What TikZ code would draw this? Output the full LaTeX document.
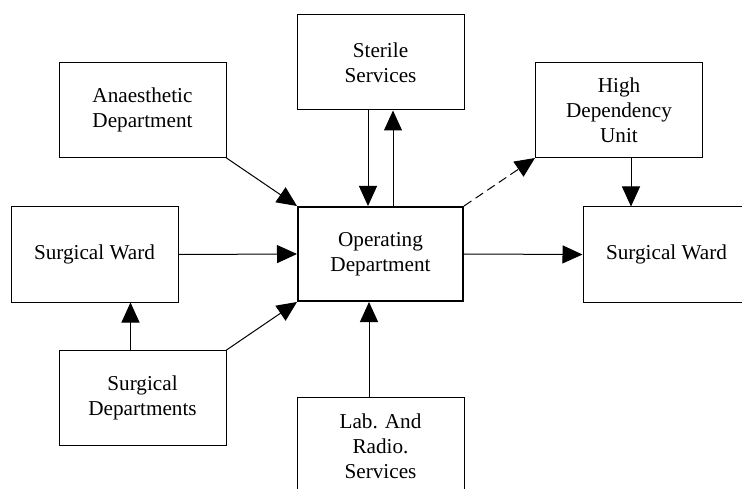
\documentclass[tikz,border=0pt]{standalone}
\usepackage{fontspec}
\setmainfont{Liberation Serif}
\usetikzlibrary{arrows.meta}

\begin{document}
\begin{tikzpicture}[x=1pt,y=-1pt,line width=1pt,
    dept/.style={draw,align=center,minimum width=167pt,minimum height=95pt,
      inner sep=0pt,font=\fontsize{21.2}{25}\selectfont},
    arr/.style={-{Triangle[length=20pt,width=18pt]}}]
    \useasboundingbox (0,0) rectangle (742,489);
    \node[dept] (sterile) at (380.5,62.5) {Sterile\\Services};
    \node[dept] (anaes) at (142.5,110) {Anaesthetic\\Department};
    \node[dept] (hdu) at (619,110) {High\\Dependency\\Unit};
    \node[dept] (wardL) at (94.5,254.5) {Surgical Ward};
    \node[dept,line width=2pt,minimum width=165pt,minimum height=94pt] (oper) at (380.5,254) {Operating\\Department};
    \node[dept] (wardR) at (666.5,254.5) {Surgical Ward};
    \node[dept] (surgdep) at (142.5,398) {Surgical\\Departments};
    \node[dept,minimum height=99pt] (lab) at (380.5,446.5) {Lab. And\\Radio.\\Services};
    \coordinate (sdup) at ([xshift=-12pt]surgdep.north);
    \coordinate (hdudn) at ([xshift=12pt]hdu.south);
    \draw[arr] (anaes.south east) -- (oper.north west);
    \draw[arr] (wardL.east) -- (oper.west);
    \draw[arr] (surgdep.north east) -- (oper.south west);
    \draw[arr] (sdup) -- (sdup |- wardL.south);
    \draw[arr] ([xshift=-12.5pt]sterile.south) -- ([xshift=-12.5pt]oper.north);
    \draw[arr] ([xshift=12.5pt]oper.north) -- ([xshift=12.5pt]sterile.south);
    \draw[arr] ([xshift=-11.5pt]lab.north) -- ([xshift=-11.5pt]oper.south);
    \draw[arr] (oper.east) -- (wardR.west);
    \draw[arr,dash pattern=on 9pt off 5pt] (oper.north east) -- (hdu.south west);
    \draw[arr] (hdudn) -- (hdudn |- wardR.north);
\end{tikzpicture}
\end{document}
